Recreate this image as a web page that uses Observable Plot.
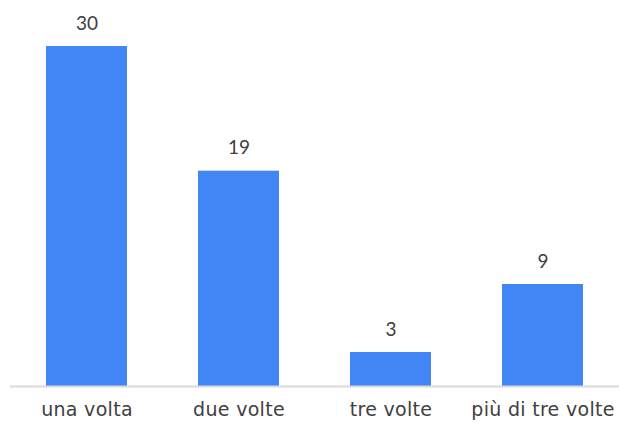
<!DOCTYPE html>
<html><head><meta charset="utf-8">
<script src="https://cdn.jsdelivr.net/npm/d3@7"></script>
<script src="https://cdn.jsdelivr.net/npm/@observablehq/plot@0.6"></script>
<style>body{margin:0;background:#fff;} svg{display:block;} svg g[aria-label="x-axis tick label"] text{letter-spacing:0.3px;}</style>
</head><body><div id="chart"></div>
<script>
const categories = ["una volta", "due volte", "tre volte", "più di tre volte"];
const values = [30, 19, 3, 9];
const data = categories.map((c, i) => ({cat: c, v: values[i]}));
const font = "'DejaVu Sans', Lato, sans-serif";
const chart = Plot.plot({
  width: 619, height: 423,
  marginLeft: 10, marginRight: 0, marginTop: 46, marginBottom: 37,
  style: {fontFamily: font, fontSize: "19px", color: "#404040", background: "#fff"},
  x: {domain: categories, paddingInner: 0.47, paddingOuter: 0.235, label: null, tickSize: 0, tickPadding: 16},
  y: {domain: [0, 30], axis: null},
  marks: [
    Plot.barY(data, {x: "cat", y: "v", fill: "#4285F4"}),
    Plot.ruleY([0], {stroke: "#d9d9d9", strokeWidth: 2}),
    Plot.text(data, {x: "cat", y: "v", text: d => String(d.v), dy: -23, fill: "#404040", fontSize: 19, fontFamily: "Lato, sans-serif"})
  ]
});
document.getElementById("chart").appendChild(chart);
</script></body></html>
